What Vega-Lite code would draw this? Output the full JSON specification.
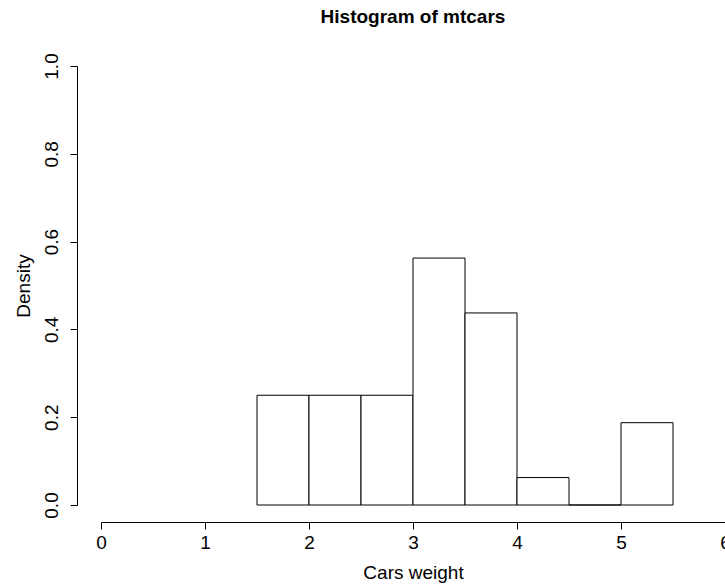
{
  "$schema": "https://vega.github.io/schema/vega-lite/v6.json",
  "width": 624,
  "height": 439,
  "autosize": {"type": "none"},
  "padding": {"left": 101, "top": 66, "right": 0, "bottom": 82},
  "background": "white",
  "title": {
    "text": "Histogram of mtcars",
    "font": "Liberation Sans",
    "fontSize": 19,
    "fontWeight": "bold",
    "color": "black",
    "anchor": "middle",
    "offset": 26
  },
  "config": {
    "view": {"stroke": null},
    "axis": {
      "grid": false,
      "domainColor": "black",
      "tickColor": "black",
      "labelColor": "black",
      "titleColor": "black",
      "labelFont": "Liberation Sans",
      "titleFont": "Liberation Sans",
      "labelFontSize": 19,
      "titleFontSize": 19,
      "titleFontWeight": "normal",
      "tickSize": 7,
      "domainWidth": 1,
      "tickWidth": 1
    }
  },
  "data": {
    "values": [
      {"start": 1.5, "end": 2.0, "density": 0.25},
      {"start": 2.0, "end": 2.5, "density": 0.25},
      {"start": 2.5, "end": 3.0, "density": 0.25},
      {"start": 3.0, "end": 3.5, "density": 0.5625},
      {"start": 3.5, "end": 4.0, "density": 0.4375},
      {"start": 4.0, "end": 4.5, "density": 0.0625},
      {"start": 4.5, "end": 5.0, "density": 0.0},
      {"start": 5.0, "end": 5.5, "density": 0.1875}
    ]
  },
  "mark": {"type": "rect", "fill": "white", "stroke": "black", "strokeWidth": 1},
  "encoding": {
    "x": {
      "field": "start",
      "type": "quantitative",
      "scale": {"domain": [0, 6], "nice": false, "zero": false},
      "axis": {
        "title": "Cars weight",
        "values": [0, 1, 2, 3, 4, 5, 6],
        "format": "d",
        "offset": 17,
        "labelPadding": 4,
        "titlePadding": 11,
        "labelFlush": false,
        "labelOverlap": false
      }
    },
    "x2": {"field": "end"},
    "y": {
      "field": "density",
      "type": "quantitative",
      "scale": {"domain": [0, 1], "nice": false},
      "axis": {
        "title": "Density",
        "values": [0, 0.2, 0.4, 0.6, 0.8, 1.0],
        "format": ".1f",
        "offset": 24,
        "labelAngle": -90,
        "labelAlign": "center",
        "labelBaseline": "bottom",
        "labelPadding": 9,
        "titlePadding": 9,
        "labelFlush": false,
        "labelOverlap": false
      }
    },
    "y2": {"datum": 0}
  }
}
